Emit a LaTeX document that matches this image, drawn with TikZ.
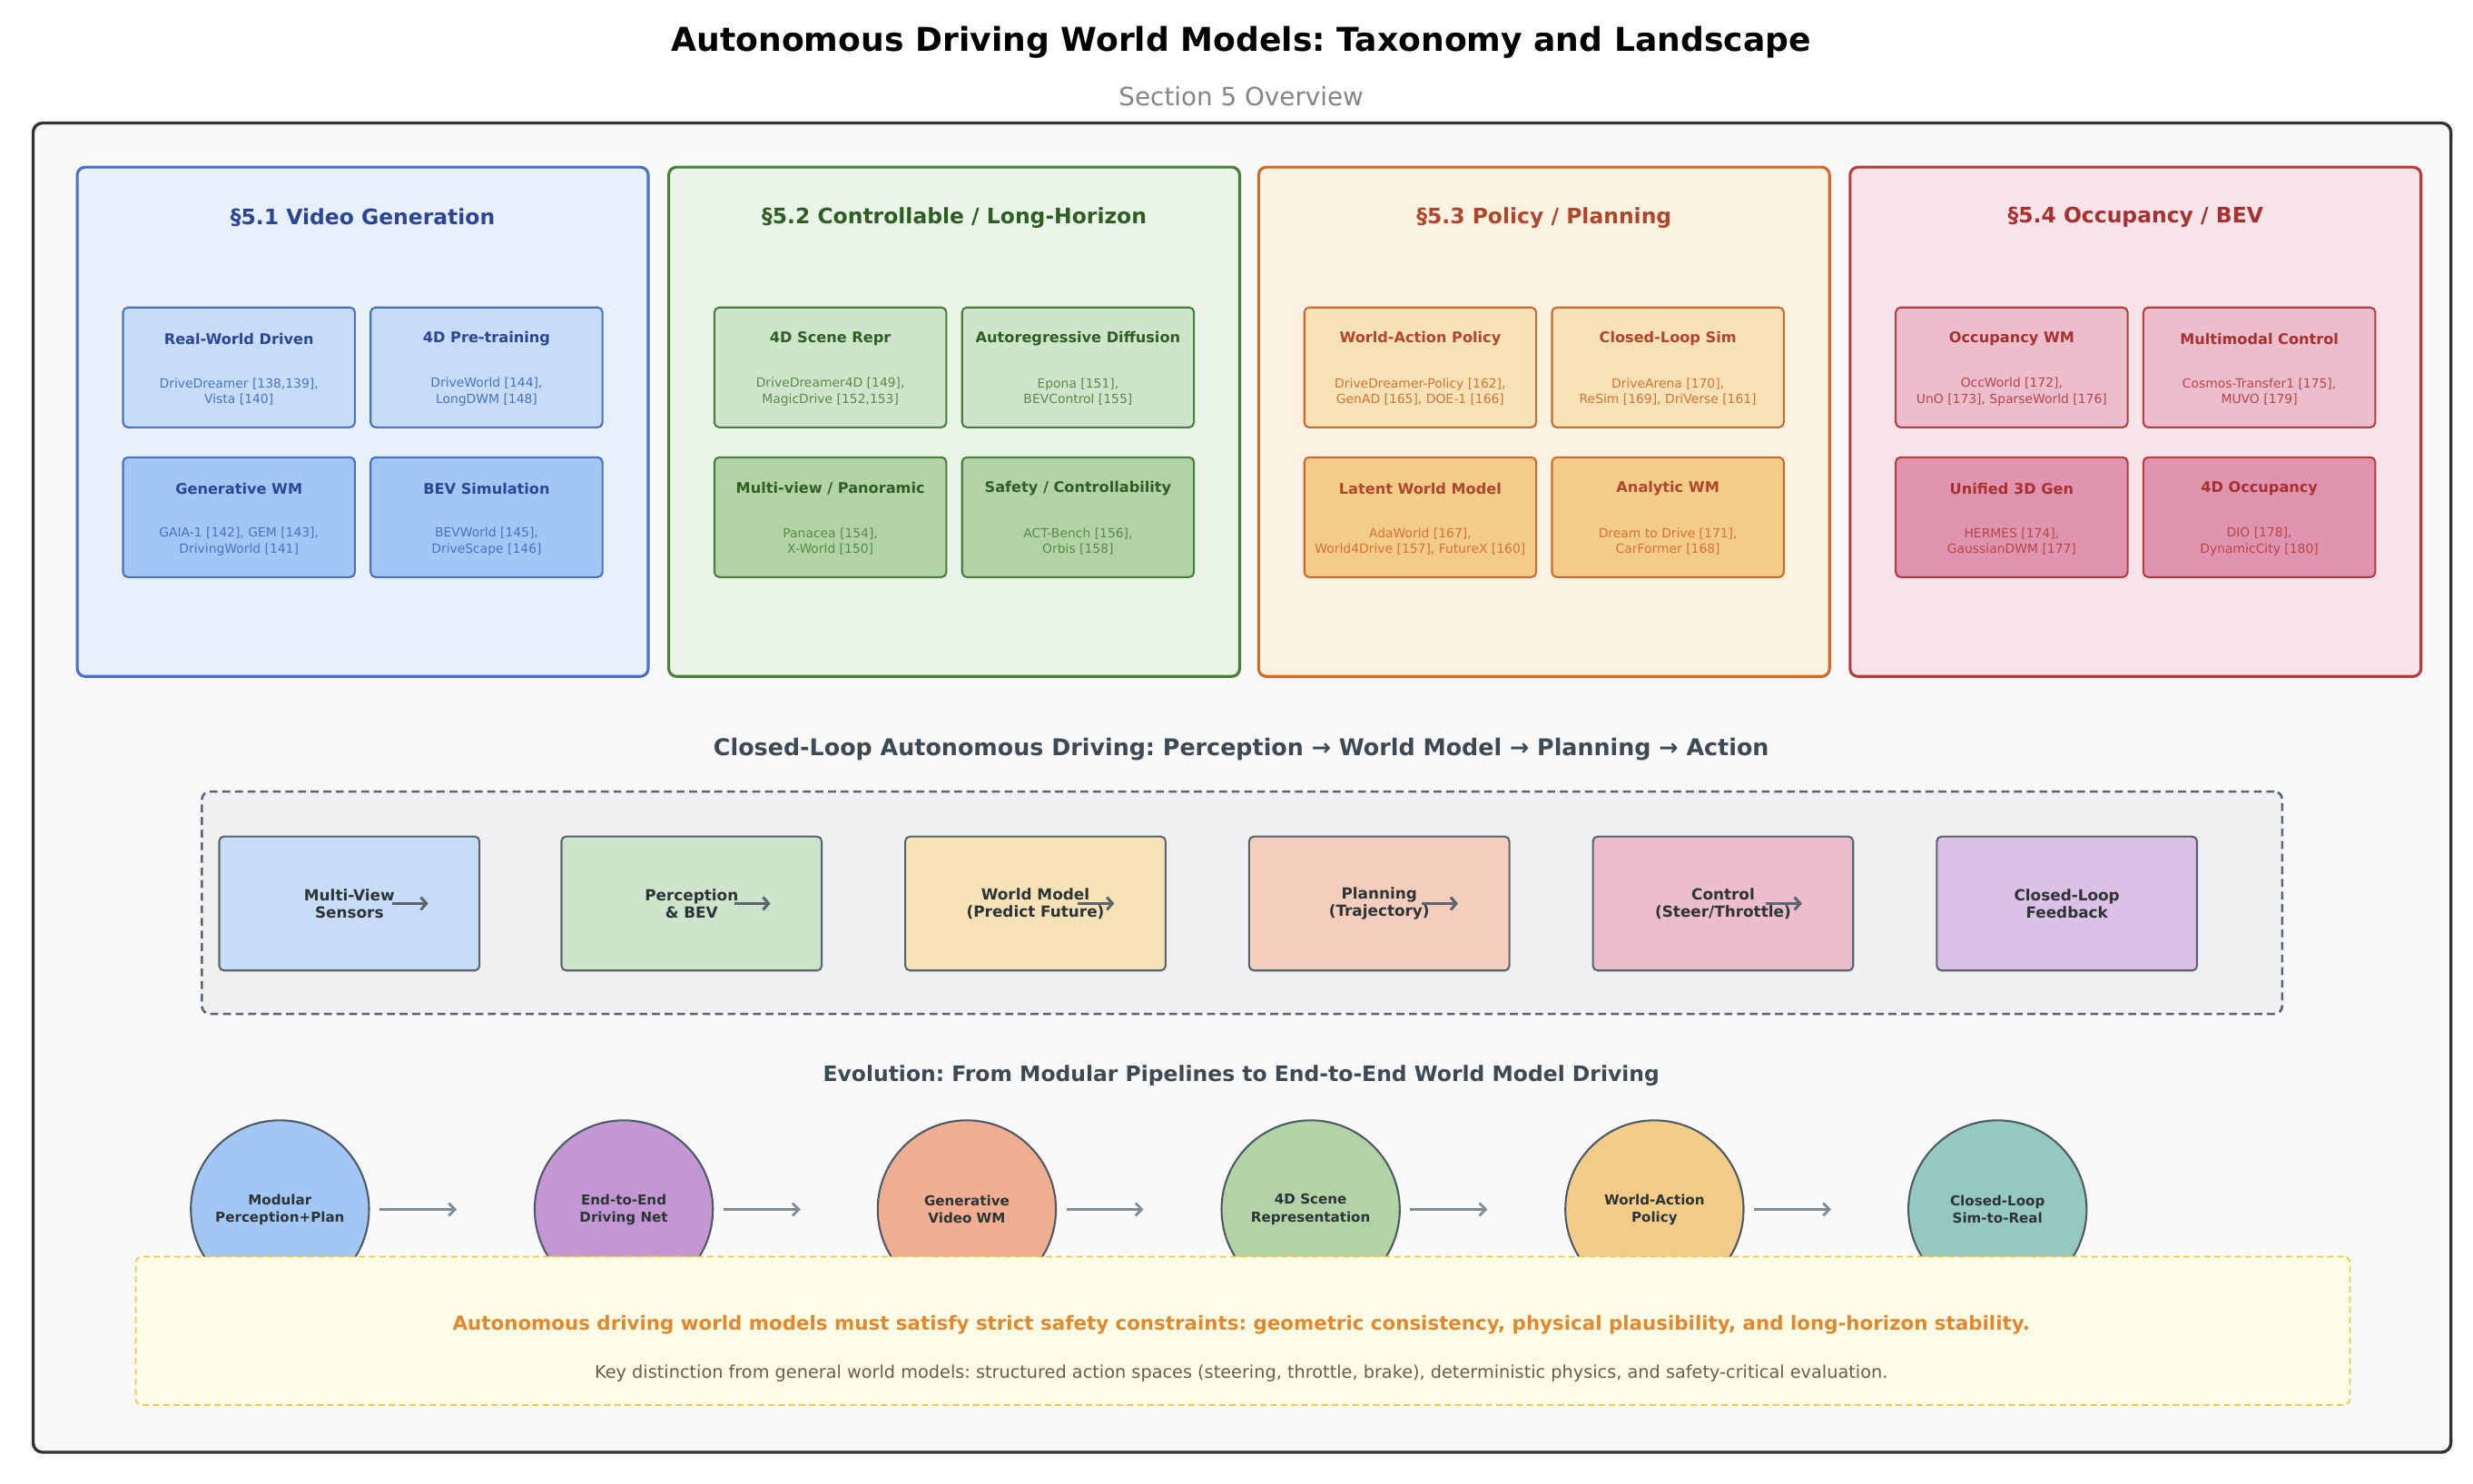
\documentclass[tikz,border=0pt]{standalone}
\usepackage{fontspec}
\setmainfont{DejaVu Sans}
\usetikzlibrary{arrows.meta,positioning}
\frenchspacing
\definecolor{frameC}{HTML}{2D3436}
\definecolor{frameF}{HTML}{F9F9F9}
\definecolor{bA}{HTML}{4A70C4}\definecolor{fA}{HTML}{E8F1FB}\definecolor{tA}{HTML}{2C4595}\definecolor{rA}{HTML}{4A72C8}
\definecolor{sA1}{HTML}{C6DCF7}\definecolor{sA2}{HTML}{A3C7F4}
\definecolor{bB}{HTML}{4A7F3A}\definecolor{fB}{HTML}{EBF4E9}\definecolor{tB}{HTML}{2F5E23}\definecolor{rB}{HTML}{5A8A4A}
\definecolor{sB1}{HTML}{CFE5CB}\definecolor{sB2}{HTML}{B1D3A6}
\definecolor{bC}{HTML}{D2692A}\definecolor{fC}{HTML}{FCF2E2}\definecolor{tC}{HTML}{B0462A}\definecolor{rC}{HTML}{D8722E}
\definecolor{sC1}{HTML}{F7E1B7}\definecolor{sC2}{HTML}{F3CC8A}
\definecolor{bD}{HTML}{B83C3C}\definecolor{fD}{HTML}{F6E4EA}\definecolor{tD}{HTML}{A8302E}\definecolor{rD}{HTML}{B94646}
\definecolor{sD1}{HTML}{EBBDCD}\definecolor{sD2}{HTML}{E094AF}
\definecolor{pipeB}{HTML}{5A6570}\definecolor{pipeF}{HTML}{EEF0F2}
\definecolor{txtD}{HTML}{2D3436}\definecolor{headC}{HTML}{3D4A55}
\definecolor{p1}{HTML}{C6DCF7}\definecolor{p2}{HTML}{CFE5CB}\definecolor{p3}{HTML}{F7E1B7}
\definecolor{p4}{HTML}{F4CDBD}\definecolor{p5}{HTML}{EBBDCD}\definecolor{p6}{HTML}{DBC1E5}
\definecolor{c1}{HTML}{A3C7F4}\definecolor{c2}{HTML}{C397D4}\definecolor{c3}{HTML}{EFAE91}
\definecolor{c4}{HTML}{B1D3A6}\definecolor{c5}{HTML}{F3CC8A}\definecolor{c6}{HTML}{96C8C2}
\definecolor{circB}{HTML}{4D5A66}\definecolor{arrC}{HTML}{7F8C99}
\definecolor{yelF}{HTML}{FFFDE8}\definecolor{yelB}{HTML}{F0C94A}
\definecolor{orT}{HTML}{E3872A}\definecolor{brT}{HTML}{6D5A4A}
\tikzset{
  panel/.style={line width=1.8pt, rounded corners=5pt, minimum width=362pt, minimum height=323pt, inner sep=0pt},
  ptitle/.style={font=\bfseries\fontsize{13.5}{16}\selectfont},
  subbox/.style={line width=1.2pt, rounded corners=3pt, minimum width=147pt, minimum height=76pt, inner sep=0pt},
  subtitle/.style={font=\bfseries\fontsize{9.3}{11}\selectfont},
  subref/.style={font=\fontsize{8}{10}\selectfont, align=center},
  pipebox/.style={draw=pipeB, line width=1.2pt, rounded corners=3pt, minimum width=165pt, minimum height=85pt, inner sep=0pt, text=txtD, font=\bfseries\fontsize{9.7}{11}\selectfont, align=center},
  pipearrow/.style={draw=pipeB, line width=1.8pt, -{Straight Barb[length=3.5pt,width=8pt]}},
  evocirc/.style={circle, draw=circB, line width=1.2pt, minimum size=113pt, inner sep=0pt, text=txtD, font=\bfseries\fontsize{8.7}{11}\selectfont, align=center},
  evoarrow/.style={draw=arrC, line width=1.6pt, -{Straight Barb[length=4pt,width=8pt]}},
  heading/.style={font=\bfseries, text=headC}
}
\begin{document}
\begin{tikzpicture}[x=1pt,y=-1pt]
\useasboundingbox (0,0) rectangle (1568,941);
\fill[white] (0,0) rectangle (1568,941);
% titles
\node[font=\bfseries\fontsize{20.8}{25}\selectfont] (title) at (787,27) {Autonomous Driving World Models: Taxonomy and Landscape};
\node[font=\fontsize{16}{19}\selectfont, text=black!48] (subt) at (787,61) {Section 5 Overview};
% outer frame
\node[draw=frameC, fill=frameF, line width=1.9pt, rounded corners=6pt, minimum width=1533pt, minimum height=843pt, inner sep=0pt] (frame) at (787.5,499.5) {};
% panels
\foreach \cx/\L/\T in {230/A/{§5.1 Video Generation},605/B/{§5.2 Controllable / Long-Horizon},979/C/{§5.3 Policy / Planning},1354/D/{§5.4 Occupancy / BEV}}{
  \node[panel, draw=b\L, fill=f\L] (panel\L) at (\cx,267.5) {};
  \node[ptitle, text=t\L] (ptitle\L) at (\cx,138) {\T};
}
% sub boxes
\foreach \L/\cx/\col/\row/\T/\R in {
  A/230/1/1/{Real-World Driven}/{DriveDreamer [138,139],\\Vista [140]},
  A/230/2/1/{4D Pre-training}/{DriveWorld [144],\\LongDWM [148]},
  A/230/1/2/{Generative WM}/{GAIA-1 [142], GEM [143],\\DrivingWorld [141]},
  A/230/2/2/{BEV Simulation}/{BEVWorld [145],\\DriveScape [146]},
  B/605/1/1/{4D Scene Repr}/{DriveDreamer4D [149],\\MagicDrive [152,153]},
  B/605/2/1/{Autoregressive Diffusion}/{Epona [151],\\BEVControl [155]},
  B/605/1/2/{Multi-view / Panoramic}/{Panacea [154],\\X-World [150]},
  B/605/2/2/{Safety / Controllability}/{ACT-Bench [156],\\Orbis [158]},
  C/979/1/1/{World-Action Policy}/{DriveDreamer-Policy [162],\\GenAD [165], DOE-1 [166]},
  C/979/2/1/{Closed-Loop Sim}/{DriveArena [170],\\ReSim [169], DriVerse [161]},
  C/979/1/2/{Latent World Model}/{AdaWorld [167],\\World4Drive [157], FutureX [160]},
  C/979/2/2/{Analytic WM}/{Dream to Drive [171],\\CarFormer [168]},
  D/1354/1/1/{Occupancy WM}/{OccWorld [172],\\UnO [173], SparseWorld [176]},
  D/1354/2/1/{Multimodal Control}/{Cosmos-Transfer1 [175],\\MUVO [179]},
  D/1354/1/2/{Unified 3D Gen}/{HERMES [174],\\GaussianDWM [177]},
  D/1354/2/2/{4D Occupancy}/{DIO [178],\\DynamicCity [180]}}{
  \pgfmathsetmacro{\bx}{\cx+(\col==1 ? -78.5 : 78.5)}
  \pgfmathsetmacro{\by}{\row==1 ? 233 : 328}
  \node[subbox, draw=b\L, fill=s\L\row] (sb\L\row\col) at (\bx,\by) {};
  \node[subtitle, text=t\L] (st\L\row\col) at ([yshift=-20.5pt]sb\L\row\col.north) {\T};
  \node[subref, text=r\L] (sr\L\row\col) at ([yshift=-15.5pt]sb\L\row\col.center) {\R};
}
% pipeline
\node[heading, font=\bfseries\fontsize{14.6}{17}\selectfont] (h1) at (787,475) {Closed-Loop Autonomous Driving: Perception → World Model → Planning → Action};
\node[draw=pipeB, fill=pipeF, dashed, dash pattern=on 5pt off 3pt, line width=1.5pt, rounded corners=5pt, minimum width=1319pt, minimum height=141pt, inner sep=0pt] (loop) at (787.5,572.5) {};
\node[pipebox, fill=p1] (q1) at (221.5,573) {Multi-View\\Sensors};
\node[pipebox, fill=p2] (q2) at (438.5,573) {Perception\\\& BEV};
\node[pipebox, fill=p3] (q3) at (656.5,573) {World Model\\(Predict Future)};
\node[pipebox, fill=p4] (q4) at (874.5,573) {Planning\\(Trajectory)};
\node[pipebox, fill=p5] (q5) at (1092.5,573) {Control\\(Steer/Throttle)};
\node[pipebox, fill=p6] (q6) at (1310.5,573) {Closed-Loop\\Feedback};
\foreach \q in {q1,q2,q3,q4,q5}{
  \draw[pipearrow] ([xshift=27pt]\q.center) -- ([xshift=50pt]\q.center);
}
% evolution
\node[heading, font=\bfseries\fontsize{13.5}{16}\selectfont] (h2) at (787,682) {Evolution: From Modular Pipelines to End-to-End World Model Driving};
\node[evocirc, fill=c1] (e1) at (177.5,767) {Modular\\Perception+Plan};
\node[evocirc, fill=c2] (e2) at (395.5,767) {End-to-End\\Driving Net};
\node[evocirc, fill=c3] (e3) at (613,767) {Generative\\Video WM};
\node[evocirc, fill=c4] (e4) at (831,767) {4D Scene\\Representation};
\node[evocirc, fill=c5] (e5) at (1049,767) {World-Action\\Policy};
\node[evocirc, fill=c6] (e6) at (1266.5,767) {Closed-Loop\\Sim-to-Real};
\foreach \a in {e1,e2,e3,e4,e5}{
  \draw[evoarrow] ([xshift=6pt]\a.east) -- ([xshift=55pt]\a.east);
}
% note box
\node[draw=yelB, fill=yelF, dashed, dash pattern=on 4pt off 2.5pt, line width=1pt, rounded corners=4pt, minimum width=1404pt, minimum height=94pt, inner sep=0pt] (note) at (788,844) {};
\node[font=\bfseries\fontsize{12.3}{14}\selectfont, text=orT] (n1) at (787,840) {Autonomous driving world models must satisfy strict safety constraints: geometric consistency, physical plausibility, and long-horizon stability.};
\node[font=\fontsize{11.1}{13}\selectfont, text=brT] (n2) at (787,871) {Key distinction from general world models: structured action spaces (steering, throttle, brake), deterministic physics, and safety-critical evaluation.};
\end{tikzpicture}
\end{document}
